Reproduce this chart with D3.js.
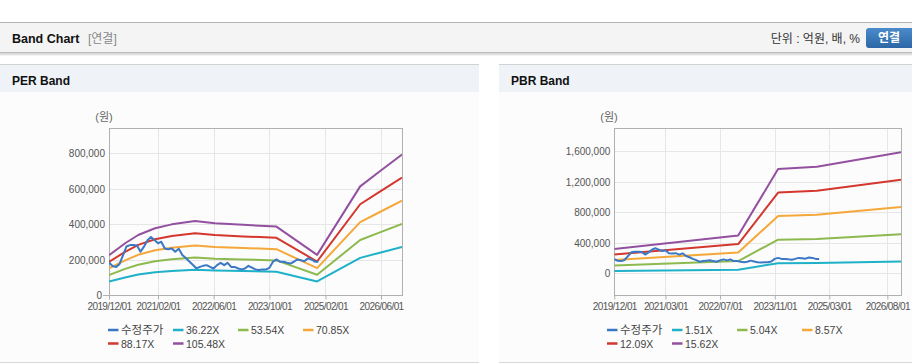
<!DOCTYPE html>
<html>
<head>
<meta charset="utf-8">
<script src="https://cdn.jsdelivr.net/npm/d3@7"></script>
<style>
  html, body { margin: 0; padding: 0; background: #fff; }
  svg { display: block; font-family: "Liberation Sans", Arial, "Noto Sans CJK KR", sans-serif; }
</style>
</head>
<body>
<svg id="page" width="912" height="364"></svg>
<script>
// 수정주가 (monthly, from 2019/12)
const PRICE_START = "2019-12-01";
const price = [
  185000, 165000, 160000, 175000, 225000, 275000, 283000, 283000, 280000, 246000,
  274000, 310000, 328000, 311000, 293000, 302000, 264000, 260000, 264000, 245000,
  262000, 227000, 210000, 190000, 172000, 152000, 160000, 166000, 170000, 160000,
  151000, 170000, 183000, 170000, 183000, 160000, 160000, 151000, 146000, 151000,
  166000, 156000, 146000, 142000, 146000, 146000, 155000, 189000, 202000, 189000,
  189000, 183000, 179000, 189000, 202000, 198000, 192000, 208000, 202000, 189000,
  189000
];

// PER band: EPS points and multiples
const perDates = ["2019-12-01", "2020-04-20", "2020-08-12", "2021-01-06", "2021-06-01", "2021-12-21",
  "2022-06-12", "2023-02-15", "2023-12-01", "2024-11-20", "2025-12-01", "2026-05-22", "2026-12-01"];
const perEps = [2140, 2780, 3220, 3580, 3790, 3970, 3850, 3765, 3670, 2160, 5820, 6625, 7520];
const perMultiples = [36.22, 53.54, 70.85, 88.17, 105.48];
const perYTicks = [0, 200000, 400000, 600000, 800000];
const perXTicks = ["2019-12-01", "2021-02-01", "2022-06-01", "2023-10-01", "2025-02-01", "2026-06-01"];

// PBR band: BPS points and multiples
const pbrDates = ["2019-12-01", "2022-12-10", "2023-12-01", "2024-11-10", "2026-12-01"];
const pbrBps = [20500, 31700, 87600, 89500, 101600];
const pbrMultiples = [1.51, 5.04, 8.57, 12.09, 15.62];
const pbrYTicks = [0, 400000, 800000, 1200000, 1600000];
const pbrXTicks = ["2019-12-01", "2021-03-01", "2022-07-01", "2023-11-01", "2025-03-01", "2026-08-01"];

const DOMAIN_X = ["2019-12-01", "2026-12-01"];
const COLORS = ["#3a78c4", "#1eb1c8", "#8dba4e", "#f5a83a", "#d3372e", "#9450a0"];

const parse = d3.utcParse("%Y-%m-%d");
const fmtX = d3.utcFormat("%Y/%m/%d");
const fmtY = d3.format(",");

const svg = d3.select("#page");
const W = 912;

// ---- top header bar
svg.append("rect").attr("x", 0).attr("y", 22).attr("width", W).attr("height", 1).attr("fill", "#b4b4b4");
svg.append("rect").attr("x", 0).attr("y", 23).attr("width", W).attr("height", 29.5).attr("fill", "#f4f4f4");
const defs = svg.append("defs");
const sh = defs.append("linearGradient").attr("id", "shadow").attr("x1", 0).attr("y1", 0).attr("x2", 0).attr("y2", 1);
sh.append("stop").attr("offset", 0).attr("stop-color", "#c8c8c8");
sh.append("stop").attr("offset", 1).attr("stop-color", "#ffffff");
svg.append("rect").attr("x", 0).attr("y", 52.5).attr("width", W).attr("height", 4).attr("fill", "url(#shadow)");
svg.append("rect").attr("x", 0).attr("y", 52).attr("width", W).attr("height", 1).attr("fill", "#bdbdbd");

svg.append("text").attr("x", 12).attr("y", 43).attr("font-size", 12.5).attr("font-weight", "bold")
  .attr("fill", "#111").text("Band Chart");
svg.append("text").attr("x", 88).attr("y", 43).attr("font-size", 12).attr("fill", "#888").text("[연결]");
svg.append("text").attr("x", 860).attr("y", 43).attr("font-size", 12).attr("text-anchor", "end")
  .attr("fill", "#333").text("단위 : 억원, 배, %");

const bg = defs.append("linearGradient").attr("id", "btn").attr("x1", 0).attr("y1", 0).attr("x2", 0).attr("y2", 1);
bg.append("stop").attr("offset", 0).attr("stop-color", "#4b8bcb");
bg.append("stop").attr("offset", 1).attr("stop-color", "#2c66a6");
svg.append("rect").attr("x", 866).attr("y", 28).attr("width", 56).attr("height", 20).attr("rx", 3)
  .attr("fill", "url(#btn)");
svg.append("text").attr("x", 889).attr("y", 42).attr("font-size", 12).attr("font-weight", "bold")
  .attr("text-anchor", "middle").attr("fill", "#fff").text("연결");

// ---- panels
const panels = [
  { x: 0, w: 479, title: "PER Band" },
  { x: 499, w: 413, title: "PBR Band" },
];
panels.forEach((p) => {
  svg.append("rect").attr("x", p.x).attr("y", 64).attr("width", p.w).attr("height", 1).attr("fill", "#d2d2d2");
  svg.append("rect").attr("x", p.x).attr("y", 65).attr("width", p.w).attr("height", 27).attr("fill", "#eff3f8");
  svg.append("rect").attr("x", p.x).attr("y", 92).attr("width", p.w).attr("height", 270).attr("fill", "#fcfcfc");
  svg.append("rect").attr("x", p.x).attr("y", 362).attr("width", p.w).attr("height", 1).attr("fill", "#d8d8d8");
  svg.append("text").attr("x", p.x + 12).attr("y", 85).attr("font-size", 12).attr("font-weight", "bold")
    .attr("fill", "#111").text(p.title);
});

const draw_band_chart = (cfg) => {
  const g = svg.append("g");
  const x = d3.scaleUtc().domain(DOMAIN_X.map(parse)).range([cfg.left, cfg.right]);
  const y = d3.scaleLinear().domain(cfg.yDomain).range([cfg.bottom, cfg.top]);

  // grid
  g.append("g").selectAll("line").data(cfg.xTicks.map(parse)).join("line")
    .attr("x1", (d) => Math.round(x(d)) + 0.5).attr("x2", (d) => Math.round(x(d)) + 0.5)
    .attr("y1", cfg.top).attr("y2", cfg.bottom).attr("stroke", "#e6e6e6");
  g.append("g").selectAll("line").data(cfg.yTicks).join("line")
    .attr("x1", cfg.left).attr("x2", cfg.right)
    .attr("y1", (d) => Math.round(y(d)) + 0.5).attr("y2", (d) => Math.round(y(d)) + 0.5)
    .attr("stroke", "#e6e6e6");

  // frame
  g.append("rect").attr("x", Math.round(cfg.left) + 0.5).attr("y", Math.round(cfg.top) + 0.5)
    .attr("width", Math.round(cfg.right - cfg.left)).attr("height", Math.round(cfg.bottom - cfg.top))
    .attr("fill", "none").attr("stroke", "#b0b0b0");

  // axes
  const xAxis = g.append("g").attr("transform", `translate(0,${Math.round(cfg.bottom) + 0.5})`)
    .call(d3.axisBottom(x).tickValues(cfg.xTicks.map(parse)).tickFormat(fmtX).tickSize(4).tickPadding(3));
  xAxis.select(".domain").remove();
  xAxis.selectAll(".tick line").attr("stroke", "#b0b0b0");
  xAxis.selectAll(".tick text").attr("font-size", 10).attr("letter-spacing", -0.6)
    .attr("fill", "#555").attr("font-family", null);

  const yAxis = g.append("g").attr("transform", `translate(${cfg.left},0)`)
    .call(d3.axisLeft(y).tickValues(cfg.yTicks).tickFormat(fmtY).tickSize(0).tickPadding(4));
  yAxis.select(".domain").remove();
  yAxis.selectAll(".tick text").attr("font-size", 10).attr("fill", "#555").attr("font-family", null);
  if (cfg.zeroTick) {
    g.append("line").attr("x1", cfg.left - 6).attr("x2", cfg.left)
      .attr("y1", Math.round(y(0)) + 0.5).attr("y2", Math.round(y(0)) + 0.5).attr("stroke", "#b0b0b0");
    yAxis.selectAll(".tick").filter((d) => d === 0).select("text").attr("x", -7);
  }

  g.append("text").attr("x", cfg.unitX).attr("y", 121).attr("font-size", 11).attr("text-anchor", "middle")
    .attr("fill", "#666").text("(원)");

  // bands
  const line = d3.line().x((d) => x(d.date)).y((d) => y(d.value));
  const baseDates = cfg.baseDates.map(parse);
  const bands = cfg.multiples.map((m) => baseDates.map((d, i) => ({ date: d, value: cfg.base[i] * m })));
  const clipId = "clip" + cfg.left;
  defs.append("clipPath").attr("id", clipId).append("rect")
    .attr("x", cfg.left).attr("y", cfg.top).attr("width", cfg.right - cfg.left).attr("height", cfg.bottom - cfg.top);
  const lines = g.append("g").attr("clip-path", `url(#${clipId})`).attr("fill", "none")
    .attr("stroke-width", 2).attr("stroke-linejoin", "round");
  lines.selectAll("path.band").data(bands).join("path").attr("class", "band")
    .attr("d", line).attr("stroke", (_, i) => COLORS[i + 1]);

  const start = parse(PRICE_START);
  const priceData = price.map((v, i) => ({ date: d3.utcMonth.offset(start, i), value: v }));
  lines.append("path").attr("d", line(priceData)).attr("stroke", COLORS[0]);

  // legend
  const names = ["수정주가", ...cfg.multiples.map((m) => m.toFixed(2) + "X")];
  const leg = g.append("g");
  names.forEach((n, i) => {
    const col = i % 4, row = Math.floor(i / 4);
    const lx = cfg.legendX + col * 65, ly = 330 + row * 13.5;
    leg.append("line").attr("x1", lx).attr("x2", lx + 10.5).attr("y1", ly).attr("y2", ly)
      .attr("stroke", COLORS[i]).attr("stroke-width", 2.5);
    leg.append("text").attr("x", lx + 13).attr("y", ly + 4).attr("font-size", i === 0 ? 11.5 : 10.5)
      .attr("fill", "#444").text(n);
  });
};

draw_band_chart({
  left: 109, right: 402, top: 128.3, bottom: 295.3,
  yDomain: [0, 941000], yTicks: perYTicks, xTicks: perXTicks,
  baseDates: perDates, base: perEps, multiples: perMultiples,
  unitX: 104, legendX: 108, zeroTick: true,
});
draw_band_chart({
  left: 614.3, right: 901, top: 128.3, bottom: 295.3,
  yDomain: [-288500, 1901600], yTicks: pbrYTicks, xTicks: pbrXTicks,
  baseDates: pbrDates, base: pbrBps, multiples: pbrMultiples,
  unitX: 609, legendX: 607, zeroTick: false,
});
</script>
</body>
</html>
